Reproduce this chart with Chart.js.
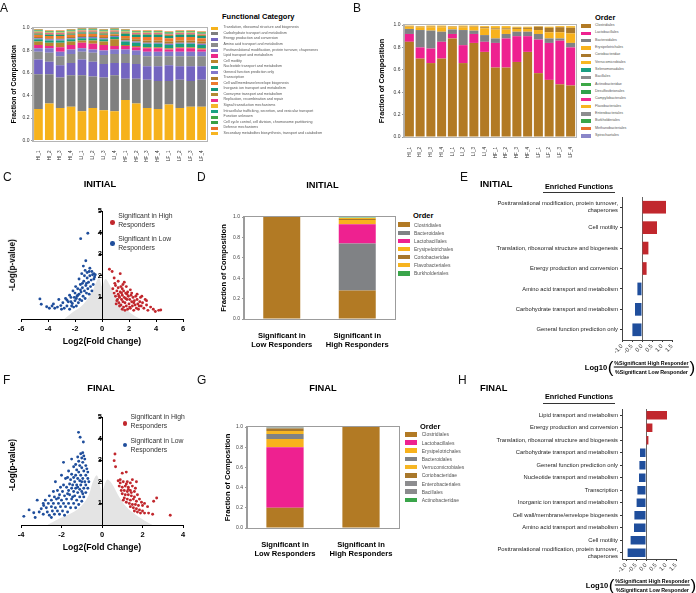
<!DOCTYPE html>
<html><head><meta charset="utf-8">
<script src="https://cdn.jsdelivr.net/npm/chart.js@4.4.0/dist/chart.umd.min.js"></script>
<style>
html,body{margin:0;padding:0;background:#fff;}
body{width:696px;height:593px;position:relative;overflow:hidden;font-family:"Liberation Sans",Arial,sans-serif;color:#000;}
.t{position:absolute;white-space:nowrap;line-height:1;}
.bx{position:absolute;}
</style></head><body>
<script>
// ---------------- DATA ----------------
const sampleLabels = ['HI_1','HI_2','HI_3','HI_4','LI_1','LI_2','LI_3','LI_4','HF_1','HF_2','HF_3','HF_4','LF_1','LF_2','LF_3','LF_4'];

const functionNames = [
 'Translation, ribosomal structure and biogenesis','Carbohydrate transport and metabolism','Energy production and conversion',
 'Amino acid transport and metabolism','Posttranslational modification, protein turnover, chaperones','Lipid transport and metabolism',
 'Cell motility','Nucleotide transport and metabolism','General function prediction only','Transcription',
 'Cell wall/membrane/envelope biogenesis','Inorganic ion transport and metabolism','Coenzyme transport and metabolism',
 'Replication, recombination and repair','Signal transduction mechanisms','Intracellular trafficking, secretion, and vesicular transport',
 'Function unknown','Cell cycle control, cell division, chromosome partitioning','Defense mechanisms',
 'Secondary metabolites biosynthesis, transport and catabolism'];
const functionColors = ['#F6B21B','#7F7F7F','#7465C0','#8C8C8C','#8079C9','#EC2A8B','#B8862F','#18A07E','#8378CB','#B07D2C',
 '#EE7A2E','#15967A','#B38A34','#EC2C8D','#F5B62A','#1CA383','#3FA648','#3AA043','#E9702C','#F7B521'];
const fTranslation      = [0.28,0.33,0.29,0.30,0.26,0.29,0.27,0.26,0.36,0.33,0.29,0.28,0.32,0.29,0.30,0.30];
const fCarbohydrate     = [0.31,0.26,0.27,0.28,0.32,0.28,0.29,0.32,0.19,0.22,0.25,0.25,0.21,0.25,0.23,0.24];
const fEnergy           = [0.13,0.11,0.11,0.11,0.14,0.13,0.12,0.11,0.14,0.13,0.12,0.13,0.14,0.12,0.13,0.12];
const fAminoAcid        = [0.07,0.08,0.08,0.08,0.07,0.08,0.08,0.08,0.08,0.08,0.09,0.09,0.08,0.09,0.09,0.09];
const fPosttranslational= [0.03,0.04,0.04,0.04,0.03,0.03,0.04,0.04,0.04,0.04,0.04,0.04,0.04,0.04,0.04,0.04];
const fLipid            = [0.03,0.02,0.04,0.04,0.05,0.05,0.05,0.03,0.03,0.03,0.03,0.03,0.02,0.03,0.03,0.02];
const fCellMotility     = [0.03,0.03,0.04,0.03,0.02,0.03,0.03,0.06,0.01,0.01,0.01,0.01,0.01,0.01,0.01,0.01];
const fNucleotide       = [0.02,0.02,0.02,0.02,0.02,0.02,0.02,0.02,0.03,0.03,0.03,0.03,0.03,0.03,0.03,0.03];
const fGeneral          = [0.01,0.01,0.01,0.01,0.01,0.01,0.01,0.01,0.01,0.01,0.01,0.01,0.01,0.01,0.01,0.01];
const fTranscription    = [0.01,0.01,0.01,0.01,0.01,0.01,0.01,0.01,0.02,0.02,0.02,0.02,0.02,0.02,0.02,0.02];
const fCellWall         = [0.02,0.02,0.02,0.02,0.02,0.02,0.02,0.01,0.02,0.02,0.03,0.03,0.03,0.03,0.03,0.03];
const fInorganic        = [0.01,0.01,0.01,0.01,0.01,0.01,0.01,0.01,0.02,0.02,0.02,0.02,0.02,0.02,0.02,0.02];
const fCoenzyme         = [0.01,0.01,0.01,0.01,0.01,0.01,0.01,0.01,0.01,0.01,0.01,0.01,0.01,0.01,0.01,0.01];
const fReplication      = [0.005,0.005,0.005,0.005,0.005,0.005,0.005,0.005,0.005,0.005,0.005,0.005,0.005,0.005,0.005,0.005];
const fSignal           = [0.005,0.005,0.005,0.005,0.005,0.005,0.005,0.005,0.005,0.005,0.005,0.005,0.005,0.005,0.005,0.005];
const fIntracellular    = [0.005,0.005,0.005,0.005,0.005,0.005,0.005,0.005,0.005,0.005,0.005,0.005,0.005,0.005,0.005,0.005];
const fUnknown          = [0.005,0.005,0.005,0.005,0.005,0.005,0.005,0.005,0.005,0.005,0.005,0.005,0.005,0.005,0.005,0.005];
const fCellCycle        = [0.004,0.004,0.004,0.004,0.004,0.004,0.004,0.004,0.004,0.004,0.004,0.004,0.004,0.004,0.004,0.004];
const fDefense          = [0.004,0.004,0.004,0.004,0.004,0.004,0.004,0.004,0.004,0.004,0.004,0.004,0.004,0.004,0.004,0.004];
const fSecondary        = [0.003,0.003,0.003,0.003,0.003,0.003,0.003,0.003,0.003,0.003,0.003,0.003,0.003,0.003,0.003,0.003];
const functionValues = [fTranslation,fCarbohydrate,fEnergy,fAminoAcid,fPosttranslational,fLipid,fCellMotility,fNucleotide,fGeneral,
 fTranscription,fCellWall,fInorganic,fCoenzyme,fReplication,fSignal,fIntracellular,fUnknown,fCellCycle,fDefense,fSecondary];

const orderNamesB = ['Clostridiales','Lactobacillales','Bacteroidales','Erysipelotrichales','Coriobacteridae','Verrucomicrobiales',
 'Selenomonadales','Bacillales','Actinobacteridae','Desulfovibrionales','Campylobacterales','Flavobacteriales','Enterobacteriales',
 'Burkholderiales','Methanobacteriales','Spirochaetales'];
const orderColorsB = ['#B27A24','#EE2190','#808285','#F8B21C','#A9782B','#F6B623','#1B9F83','#8B8B8D','#3DA846','#2FA24A',
 '#EE2A93','#F7B41F','#8D8D8F','#3AA54A','#EA6E2B','#8A86C9'];
const bClostridiales      = [0.85,0.70,0.66,0.70,0.88,0.66,0.84,0.76,0.62,0.62,0.67,0.76,0.57,0.51,0.47,0.46];
const bLactobacillales    = [0.07,0.10,0.13,0.15,0.04,0.16,0.08,0.09,0.22,0.26,0.23,0.14,0.30,0.33,0.39,0.34];
const bBacteroidales      = [0.045,0.155,0.16,0.09,0.04,0.135,0.03,0.06,0.04,0.04,0.04,0.04,0.05,0.04,0.02,0.04];
const bErysipelotrichales = [0.02,0.025,0.03,0.04,0.02,0.025,0.035,0.06,0.08,0.04,0.025,0.025,0.035,0.055,0.055,0.085];
const bCoriobacteridae    = [0.005,0.005,0.005,0.005,0.005,0.005,0.005,0.01,0.01,0.01,0.01,0.01,0.03,0.04,0.045,0.05];
const bVerrucomicrobiales = [0.005,0.005,0.01,0.01,0.005,0.01,0.005,0.01,0.02,0.02,0.01,0.01,0.005,0.01,0.01,0.015];
const orderValuesB = [bClostridiales,bLactobacillales,bBacteroidales,bErysipelotrichales,bCoriobacteridae,bVerrucomicrobiales];

// Volcano INITIAL (C)
const cBlue = [[-4.6,0.93],[-4.5,0.68],[-4.1,0.57],[-3.9,0.5],[-3.6,0.7],[-3.5,0.5],[-3.3,0.55],[-3.2,0.9],[-3.05,0.62],[-2.9,0.75],
 [-2.8,0.5],[-2.7,0.95],[-2.6,0.6],[-2.6,0.88],[-2.5,0.8],[-2.4,0.45],[-2.4,1.1],[-2.3,1.0],[-2.25,0.6],[-2.2,0.72],[-2.15,1.3],
 [-2.1,0.55],[-2.0,1.2],[-2.0,0.85],[-1.95,1.5],[-1.9,0.6],[-1.9,0.95],[-1.85,1.05],[-1.8,1.4],[-1.75,0.75],[-1.7,1.15],[-1.7,1.85],
 [-1.65,0.9],[-1.6,1.6],[-1.55,1.25],[-1.5,0.85],[-1.5,2.1],[-1.45,1.45],[-1.4,1.05],[-1.38,2.45],[-1.35,1.75],[-1.3,1.3],[-1.3,2.0],
 [-1.25,0.95],[-1.25,2.25],[-1.2,1.55],[-1.2,2.7],[-1.15,1.2],[-1.1,1.9],[-1.1,2.15],[-1.05,1.4],[-1.05,3.97],[-1.0,1.7],[-0.95,1.15],
 [-0.95,2.2],[-0.9,2.0],[-0.9,2.35],[-0.85,1.5],[-0.8,1.8],[-0.75,1.3],[-0.75,2.2],[-0.7,2.05],[-0.65,1.6],[-0.6,1.85],[-0.6,2.1],
 [-0.55,1.95],[-0.5,2.05],[-1.58,3.72],[-2.05,1.0],[-1.8,1.1],[-1.6,1.35],[-1.45,1.65],[-1.15,1.65],[-2.3,0.8],[-3.0,0.45],[-3.7,0.6]];
const cRed = [[0.55,2.3],[0.75,2.2],[1.35,2.1],[0.9,1.9],[1.2,1.75],[1.55,1.6],[1.0,1.55],[1.8,1.5],[2.1,1.35],[1.5,1.4],[0.8,1.4],
 [0.9,1.2],[1.0,1.05],[1.1,1.3],[1.15,0.9],[1.2,1.15],[1.25,0.75],[1.3,1.0],[1.35,1.25],[1.4,0.65],[1.45,0.9],[1.5,1.1],[1.55,0.8],
 [1.6,0.55],[1.65,1.0],[1.7,0.75],[1.75,1.2],[1.8,0.6],[1.85,0.9],[1.9,0.45],[1.95,1.05],[2.0,0.7],[2.05,0.9],[2.1,0.5],[2.15,1.1],
 [2.2,0.8],[2.25,0.6],[2.3,1.0],[2.35,0.4],[2.4,0.85],[2.45,0.65],[2.5,1.05],[2.55,0.5],[2.6,0.9],[2.65,0.7],[2.7,0.45],[2.8,0.8],
 [2.85,1.0],[2.9,0.6],[3.0,0.75],[3.1,0.5],[3.2,0.9],[3.3,0.65],[3.4,0.4],[3.6,0.55],[3.8,0.45],[3.95,0.35],[4.2,0.4],[4.35,0.42],
 [1.1,0.85],[1.3,0.6],[1.5,0.45],[1.7,0.4],[1.2,1.45],[1.6,1.3],[1.9,1.25],[2.2,1.2],[2.6,1.15],[2.95,1.05],[3.3,0.85],[1.05,0.7],
 [1.75,0.95],[2.05,0.55],[2.75,0.6],[1.4,1.5],[0.95,1.65],[1.65,1.7],[1.25,1.05],[1.45,1.2],[1.85,1.15],[2.35,0.75]];
const cGray = [[-2.8,0],[-2.2,0.3],[-1.6,0.55],[-1.1,0.9],[-0.7,1.3],[-0.4,1.75],[-0.2,1.9],[0,1.5],[0.25,1.85],[0.55,1.6],
 [0.9,1.15],[1.3,0.8],[1.8,0.45],[2.4,0.15],[2.9,0]];

// Volcano FINAL (F)
const fBlue = [[-1.16,4.29],[-1.08,4.06],[-0.92,3.84],[-0.95,3.35],[-1.05,3.3],[-0.9,3.2],[-1.0,3.1],[-0.85,3.05],[-1.5,3.05],
 [-1.15,2.95],[-0.95,2.9],[-1.9,2.9],[-1.2,3.15],[-1.3,2.8],[-1.1,2.75],[-0.8,2.75],[-1.4,2.7],[-1.0,2.65],[-0.75,2.6],[-1.25,2.55],
 [-1.65,2.5],[-0.9,2.5],[-1.15,2.45],[-0.7,2.45],[-1.5,2.35],[-1.3,2.3],[-1.05,2.3],[-0.8,2.3],[-2.0,2.3],[-1.7,2.2],[-1.4,2.2],
 [-1.2,2.15],[-0.95,2.15],[-0.7,2.15],[-1.8,2.15],[-1.55,2.1],[-1.1,2.05],[-0.85,2.0],[-2.3,2.0],[-1.35,2.0],[-0.65,2.0],[-2.2,1.6],
 [-1.9,1.85],[-1.6,1.9],[-1.45,1.85],[-1.25,1.85],[-1.05,1.85],[-0.8,1.85],[-2.05,1.75],[-1.75,1.75],[-1.5,1.7],[-1.3,1.7],[-1.1,1.65],
 [-0.9,1.7],[-0.7,1.7],[-2.4,1.55],[-1.95,1.55],[-1.65,1.6],[-1.4,1.55],[-1.2,1.5],[-1.0,1.55],[-0.8,1.5],[-2.6,1.35],[-2.35,1.3],
 [-2.1,1.4],[-1.85,1.35],[-1.6,1.4],[-1.35,1.35],[-1.1,1.3],[-0.9,1.3],[-2.8,1.15],[-3.2,1.15],[-2.5,1.15],[-2.25,1.2],[-2.0,1.15],
 [-1.75,1.2],[-1.5,1.2],[-1.25,1.15],[-1.0,1.1],[-2.9,1.0],[-2.65,1.0],[-2.4,1.0],[-2.15,1.0],[-1.9,1.0],[-1.65,1.0],[-1.4,1.0],
 [-1.15,0.95],[-3.6,0.7],[-3.37,0.57],[-3.86,0.4],[-3.0,0.75],[-2.88,0.9],[-3.1,0.6],[-2.75,0.8],[-2.5,0.85],[-2.3,0.8],[-2.05,0.85],
 [-1.8,0.85],[-1.55,0.8],[-1.3,0.8],[-2.7,0.6],[-2.45,0.65],[-2.2,0.65],[-1.95,0.65],[-1.7,0.6],[-2.9,0.5],[-2.6,0.45],[-2.35,0.5],
 [-2.1,0.5],[-1.85,0.45],[-3.3,0.35],[-2.5,0.35],[-1.0,2.0],[-1.2,1.75],[-0.95,1.45],[-1.45,1.3],[-1.7,1.45],[-2.15,1.25]];
const fRed = [[0.64,3.29],[0.6,2.98],[0.67,2.7],[1.0,2.4],[1.2,2.45],[1.5,2.1],[1.7,2.0],[2.7,1.25],[2.55,1.1],[2.3,0.55],[2.5,0.5],
 [2.1,0.55],[3.37,0.45],[2.25,0.85],[2.0,0.9],[0.8,2.05],[0.9,1.95],[1.05,2.0],[1.25,2.0],[1.4,1.95],[0.85,1.8],[1.0,1.75],[1.15,1.8],
 [1.3,1.75],[1.5,1.8],[0.95,1.6],[1.1,1.6],[1.25,1.55],[1.4,1.6],[1.6,1.55],[1.0,1.45],[1.15,1.4],[1.3,1.4],[1.45,1.35],[1.6,1.3],
 [1.75,1.4],[1.1,1.25],[1.25,1.2],[1.4,1.15],[1.55,1.2],[1.7,1.1],[1.85,1.2],[1.2,1.05],[1.35,1.0],[1.5,0.95],[1.65,0.95],[1.8,0.9],
 [1.95,1.05],[1.4,0.85],[1.55,0.8],[1.7,0.75],[1.85,0.7],[2.0,0.65],[1.6,0.65],[1.75,0.6],[1.9,0.55],[1.05,1.15],[1.3,1.65],[1.45,1.5],
 [1.2,1.9],[2.1,1.0],[1.65,1.7],[0.9,2.1]];
const fGray = [[-2.7,0],[-2.1,0.3],[-1.5,0.55],[-1.0,0.9],[-0.65,1.4],[-0.45,2.0],[-0.25,2.3],[0,1.6],[0.25,2.1],[0.5,1.9],
 [0.85,1.3],[1.2,0.85],[1.7,0.45],[2.2,0.15],[2.5,0]];

// Stacked composition D (INITIAL) / G (FINAL)
const responderLabels = [['Significant in','Low Responders'],['Significant in','High Responders']];
const orderNamesD = ['Clostridiales','Bacteroidales','Lactobacillales','Erysipelotrichales','Coriobacteridae','Flavobacteriales','Burkholderiales'];
const orderColorsD = ['#B27A24','#808285','#EE2190','#F8B21C','#A9782B','#F7B41F','#3AA54A'];
const dValues = [[1.0,0.28],[0,0.46],[0,0.19],[0,0.04],[0,0.01],[0,0.01],[0,0.005]];
const orderNamesG = ['Clostridiales','Lactobacillales','Erysipelotrichales','Bacteroidales','Verrucomicrobiales','Coriobacteridae',
 'Enterobacteriales','Bacillales','Actinobacteridae'];
const orderColorsG = ['#B27A24','#EE2190','#F8B21C','#808285','#F6B623','#A9782B','#8D8D8F','#8B8B8D','#3AA54A'];
const gValues = [[0.20,1.0],[0.60,0],[0.08,0],[0.05,0],[0.03,0],[0.025,0],[0.006,0],[0.004,0],[0.002,0]];

// Enriched functions E (INITIAL) / H (FINAL)
const eLabels = [['Posttranslational modification, protein turnover,','chaperones'],'Cell motility',
 'Translation, ribosomal structure and biogenesis','Energy production and conversion','Amino acid transport and metabolism',
 'Carbohydrate transport and metabolism','General function prediction only'];
const eValues = [1.2,0.75,0.32,0.23,-0.23,-0.35,-0.48];
const hLabels = ['Lipid transport and metabolism','Energy production and conversion','Translation, ribosomal structure and biogenesis',
 'Carbohydrate transport and metabolism','General function prediction only','Nucleotide transport and metabolism','Transcription',
 'Inorganic ion transport and metabolism','Cell wall/membrane/envelope biogenesis','Amino acid transport and metabolism','Cell motility',
 ['Posttranslational modification, protein turnover,','chaperones']];
const hValues = [1.05,0.32,0.12,-0.3,-0.33,-0.35,-0.43,-0.47,-0.58,-0.6,-0.77,-0.92];
const ratioTicks = [-1,-0.5,0,0.5,1,1.5];

// ---------------- HELPERS ----------------
Chart.defaults.font.family = '"Liberation Sans", Arial, sans-serif';
Chart.defaults.color = '#333';
const RED = '#C1272D', BLUE = '#1F4E9C';

function mk(left, top, w, h){
  const c = document.createElement('canvas');
  c.width = w; c.height = h;
  c.style.cssText = `position:absolute;left:${left}px;top:${top}px;width:${w}px;height:${h}px;`;
  document.body.appendChild(c);
  return c;
}
function txt(html, left, top, css){
  const d = document.createElement('div');
  d.className = 't'; d.innerHTML = html;
  d.style.cssText = `left:${left}px;top:${top}px;` + (css || '');
  document.body.appendChild(d);
  return d;
}
function box(left, top, w, h, color){
  const d = document.createElement('div');
  d.className = 'bx';
  d.style.cssText = `left:${left}px;top:${top}px;width:${w}px;height:${h}px;background:${color};`;
  document.body.appendChild(d);
}
function legend(o){
  txt(o.title, o.titleX, o.titleY, `font-weight:bold;font-size:${o.titleSize}px;transform:translateY(-50%);`);
  o.names.forEach((n, i) => {
    const y = o.firstY + i * o.step;
    box(o.boxX, y - o.boxH / 2, o.boxW, o.boxH, o.colors[i]);
    txt(n, o.textX, y, `font-size:${o.fontSize}px;color:#555;transform:translateY(-50%);`);
  });
}
const frame = {
  id: 'frame',
  afterDraw(chart, args, opts){
    if (!opts || !opts.color) return;
    const {left, top, right, bottom} = chart.chartArea;
    const ctx = chart.ctx;
    ctx.save(); ctx.strokeStyle = opts.color; ctx.lineWidth = 1;
    ctx.strokeRect(Math.round(left) - 0.5, Math.round(top) - 0.5, Math.round(right - left) + 1, Math.round(bottom - top) + 1);
    ctx.restore();
  }
};
const noLegend = {legend: {display: false}, tooltip: {enabled: false}};

// ---------------- PANEL A ----------------
new Chart(mk(0, 0, 212, 170), {
  type: 'bar',
  data: {labels: sampleLabels, datasets: functionValues.map((v, i) => ({label: functionNames[i], data: v,
    backgroundColor: functionColors[i], borderWidth: 0, barPercentage: 0.8, categoryPercentage: 1}))},
  options: {responsive: false, animation: false,
    layout: {padding: {left: 0, right: 5, top: 28, bottom: 0}},
    plugins: Object.assign({frame: {color: '#b5b5b5'}}, noLegend),
    scales: {
      x: {stacked: true, grid: {display: false}, border: {display: false},
          ticks: {autoSkip: false, minRotation: 90, maxRotation: 90, font: {size: 4.6}, color: '#333', padding: 2},
          afterFit(s){ s.height = 29.5; }},
      y: {stacked: true, min: 0, max: 1,
          ticks: {stepSize: 0.2, callback: v => v.toFixed(1), font: {size: 5}, color: '#333', padding: 1.5},
          grid: {drawOnChartArea: false, tickLength: 2, color: '#999'}, border: {color: '#b5b5b5'},
          title: {display: true, text: 'Fraction of Composition', font: {size: 6.8, weight: 'bold'}, color: '#000', padding: {top: 10, bottom: 0}},
          afterFit(s){ s.width = 33; }}
    }},
  plugins: [frame]
});
legend({title: 'Functional Category', titleX: 222, titleY: 17, titleSize: 7.5, names: functionNames, colors: functionColors,
  boxX: 211, boxW: 7, boxH: 3.2, firstY: 28.3, step: 5.55, textX: 223.5, fontSize: 3.6});

// ---------------- PANEL B ----------------
new Chart(mk(372, 0, 208, 170), {
  type: 'bar',
  data: {labels: sampleLabels, datasets: orderValuesB.map((v, i) => ({label: orderNamesB[i], data: v,
    backgroundColor: orderColorsB[i], borderWidth: 0, barPercentage: 0.84, categoryPercentage: 1}))},
  options: {responsive: false, animation: false,
    layout: {padding: {left: 0, right: 4, top: 25, bottom: 0}},
    plugins: Object.assign({frame: {color: '#b5b5b5'}}, noLegend),
    scales: {
      x: {stacked: true, grid: {display: false}, border: {display: false},
          ticks: {autoSkip: false, minRotation: 90, maxRotation: 90, font: {size: 4.6}, color: '#333', padding: 2},
          afterFit(s){ s.height = 33; }},
      y: {stacked: true, min: 0, max: 1,
          ticks: {stepSize: 0.2, callback: v => v.toFixed(1), font: {size: 5}, color: '#333', padding: 1.5},
          grid: {drawOnChartArea: false, tickLength: 2, color: '#999'}, border: {color: '#b5b5b5'},
          title: {display: true, text: 'Fraction of Composition', font: {size: 7.3, weight: 'bold'}, color: '#000', padding: {top: 6, bottom: 0}},
          afterFit(s){ s.width = 32; }}
    }},
  plugins: [frame]
});
legend({title: 'Order', titleX: 595, titleY: 17.5, titleSize: 7.5, names: orderNamesB, colors: orderColorsB,
  boxX: 581, boxW: 9.5, boxH: 3.6, firstY: 26, step: 7.33, textX: 595, fontSize: 3.6});

// ---------------- VOLCANO helper ----------------
function volcano(left, top, xmin, xmax, gray, blue, red){
  return new Chart(mk(left, top, 200, 154), {
    type: 'scatter',
    data: {datasets: [
      {data: gray.map(p => ({x: p[0], y: p[1]})), showLine: true, fill: 'origin', tension: 0.35,
       backgroundColor: '#E4E4E4', borderWidth: 0, pointRadius: 0, order: 3},
      {data: blue.map(p => ({x: p[0], y: p[1]})), backgroundColor: BLUE, borderWidth: 0, pointRadius: 1.45, order: 2},
      {data: red.map(p => ({x: p[0], y: p[1]})), backgroundColor: RED, borderWidth: 0, pointRadius: 1.45, order: 1}
    ]},
    options: {responsive: false, animation: false,
      layout: {padding: {left: left === 0 ? 21 : 20, right: 17, top: 16, bottom: 2}},
      plugins: noLegend,
      scales: {
        x: {type: 'linear', min: xmin, max: xmax,
            ticks: {stepSize: 2, font: {size: 7.5, weight: 'bold'}, color: '#000', padding: 2, z: 2},
            grid: {drawOnChartArea: false, tickLength: 3, color: '#000', z: 2}, border: {color: '#000', width: 1, z: 2},
            title: {display: true, text: 'Log2(Fold Change)', font: {size: 8.6, weight: 'bold'}, color: '#000', padding: {top: 2, bottom: 0}},
            afterFit(s){ s.height = 28; }},
        y: {type: 'linear', axis: 'y', position: {x: 0}, min: 0, max: 5,
            ticks: {stepSize: 1, callback: v => v === 0 ? '' : v, font: {size: 7.5, weight: 'bold'}, color: '#000', padding: 1.5, z: 2},
            grid: {drawOnChartArea: false, tickLength: 3, color: '#000', z: 2}, border: {color: '#000', width: 1, z: 2}}
      }}
  });
}
function volcanoLegend(dotX, redY, blueY){
  const d = 4.6;
  const r = document.createElement('div'); r.className = 'bx';
  r.style.cssText = `left:${dotX - d/2}px;top:${redY - d/2}px;width:${d}px;height:${d}px;border-radius:50%;background:${RED};`;
  document.body.appendChild(r);
  const b = document.createElement('div'); b.className = 'bx';
  b.style.cssText = `left:${dotX - d/2}px;top:${blueY - d/2}px;width:${d}px;height:${d}px;border-radius:50%;background:${BLUE};`;
  document.body.appendChild(b);
  txt('Significant in High<br>Responders', dotX + 5.5, redY - 1.5, 'font-size:6.8px;line-height:8.8px;color:#333;transform:translateY(-50%);');
  txt('Significant in Low<br>Responders', dotX + 5.5, blueY - 0.5, 'font-size:6.8px;line-height:9.2px;color:#333;transform:translateY(-50%);');
}
function rotTitle(text, cx, cy, size){
  txt(text, cx, cy, `font-weight:bold;font-size:${size}px;transform:translate(-50%,-50%) rotate(-90deg);`);
}

// ---------------- PANEL C ----------------
volcano(0, 195, -6, 6, cGray, cBlue, cRed);
volcanoLegend(112.7, 222.3, 243.3);
rotTitle('-Log(p-value)', 13, 265, 8.2);

// ---------------- PANEL F ----------------
volcano(0, 401, -4, 4, fGray, fBlue, fRed);
volcanoLegend(125, 423.3, 445);
rotTitle('-Log(p-value)', 13, 465, 8.2);

// ---------------- STACKED helper (D, G) ----------------
function composition(left, top, w, h, padTop, axisW, names, colors, values, bottomH, titlePad){
  new Chart(mk(left, top, w, h), {
    type: 'bar',
    data: {labels: responderLabels, datasets: values.map((v, i) => ({label: names[i], data: v, backgroundColor: colors[i],
      borderWidth: 0, barPercentage: 0.49, categoryPercentage: 1}))},
    options: {responsive: false, animation: false,
      layout: {padding: {left: 0, right: 5, top: padTop, bottom: 0}},
      plugins: Object.assign({frame: {color: '#9c9c9c'}}, noLegend),
      scales: {
        x: {stacked: true, grid: {display: false}, border: {display: false},
            ticks: {font: {size: 7.6, weight: 'bold'}, color: '#000', padding: 4, maxRotation: 0, autoSkip: false},
            afterFit(s){ s.height = bottomH; }},
        y: {stacked: true, min: 0, max: 1,
            ticks: {stepSize: 0.2, callback: v => v.toFixed(1), font: {size: 5}, color: '#444', padding: 2},
            grid: {drawOnChartArea: false, tickLength: 2, color: '#999'}, border: {color: '#9c9c9c'},
            title: {display: true, text: 'Fraction of Composition', font: {size: 7.6, weight: 'bold'}, color: '#000', padding: {top: titlePad, bottom: 0}},
            afterFit(s){ s.width = axisW; }}
      }},
    plugins: [frame]
  });
}
// D: plot 244..395, 217..319  (canvas 205..365)
composition(215, 205, 185, 160, 12, 29, orderNamesD, orderColorsD, dValues, 46, 4.5);
legend({title: 'Order', titleX: 413, titleY: 216, titleSize: 7.5, names: orderNamesD, colors: orderColorsD,
  boxX: 397.5, boxW: 12, boxH: 4.6, firstY: 224.7, step: 8.1, textX: 414, fontSize: 5});
// G: plot 247..399, 427..528  (canvas 415..575)
composition(218, 415, 186, 160, 12, 29, orderNamesG, orderColorsG, gValues, 47, 5);
legend({title: 'Order', titleX: 420, titleY: 426.5, titleSize: 7.5, names: orderNamesG, colors: orderColorsG,
  boxX: 405, boxW: 12, boxH: 4.6, firstY: 434.3, step: 8.2, textX: 421.7, fontSize: 5});

// ---------------- ENRICHED helper (E, H) ----------------
function enriched(top, h, padTop, xmin, labels, values, barPct, bottomH){
  new Chart(mk(462, top, 234, h), {
    type: 'bar',
    data: {labels: labels, datasets: [{data: values, backgroundColor: values.map(v => v > 0 ? RED : BLUE),
      borderWidth: 0, barPercentage: barPct, categoryPercentage: 1}]},
    options: {responsive: false, animation: false, indexAxis: 'y',
      layout: {padding: {left: 0, right: 234 - 160 - (1.5 - xmin) * 20, top: padTop, bottom: 0}},
      plugins: noLegend,
      scales: {
        x: {type: 'linear', min: xmin, max: 1.5,
            afterBuildTicks(s){ s.ticks = ratioTicks.map(v => ({value: v})); },
            ticks: {autoSkip: false, callback: v => v.toFixed(1), minRotation: 45, maxRotation: 45, font: {size: 5.8}, color: '#333', padding: 1},
            grid: {drawOnChartArea: true, tickLength: 2, tickColor: '#333',
                   color: c => (c.tick && c.tick.value === 0) ? '#666' : 'rgba(0,0,0,0)'},
            border: {color: '#444'},
            afterFit(s){ s.height = bottomH; }},
        y: {ticks: {font: {size: 5.8}, color: '#222', padding: 2, autoSkip: false},
            grid: {drawOnChartArea: false, offset: false, tickLength: 2, color: '#333'}, border: {color: '#444'},
            afterFit(s){ s.width = 160; }}
      }}
  });
}
function ratioTitle(cx, cy){
  txt('<span style="font-weight:bold;font-size:7.6px;">Log10</span>' +
      '<span style="font-size:17px;line-height:17px;font-weight:300;margin:0 0.5px;">(</span>' +
      '<span style="display:inline-flex;flex-direction:column;align-items:center;font-weight:bold;font-size:5.3px;line-height:6px;">' +
      '<span style="border-bottom:0.8px solid #000;padding:0 0.5px 0.6px;">%Significant High Responder</span>' +
      '<span style="padding-top:0.6px;">%Significant Low Responder</span></span>' +
      '<span style="font-size:17px;line-height:17px;font-weight:300;margin-left:0.5px;">)</span>',
      cx, cy, 'display:flex;align-items:center;transform:translate(-50%,-50%);');
}
function enrichedHeader(y){
  txt('Enriched Functions', 579, y, 'font-weight:bold;font-size:7.3px;transform:translate(-50%,-50%);');
  box(543, y + 5.5, 72, 0.9, '#333');
}

// E: axis at 622, plot top 197, bottom 340
enriched(190, 168, 7, -1, eLabels, eValues, 0.62, 18);
enrichedHeader(186.8);
ratioTitle(640, 367);

// H: axis at 622, plot top 409, bottom 559
enriched(400, 176, 9, -1.2, hLabels, hValues, 0.68, 17);
enrichedHeader(397);
ratioTitle(641, 585);

// ---------------- TEXT: letters and titles ----------------
const letterCss = 'font-size:12px;color:#111;';
txt('A', 0, 2.4, letterCss); txt('B', 353, 1.5, letterCss);
txt('C', 3, 170.5, letterCss); txt('D', 197, 170.5, letterCss); txt('E', 460, 171, letterCss);
txt('F', 3, 373.5, letterCss); txt('G', 197, 373.5, letterCss); txt('H', 458, 373.5, letterCss);
const ttl = 'font-weight:bold;font-size:9.3px;transform:translate(-50%,-50%);';
txt('INITIAL', 100, 185, ttl); txt('INITIAL', 322.5, 185.5, ttl);
txt('INITIAL', 480, 184.5, 'font-weight:bold;font-size:9.3px;transform:translateY(-50%);');
txt('FINAL', 101, 389, ttl); txt('FINAL', 323, 389, ttl);
txt('FINAL', 480, 389, 'font-weight:bold;font-size:9.3px;transform:translateY(-50%);');
</script>
</body></html>
